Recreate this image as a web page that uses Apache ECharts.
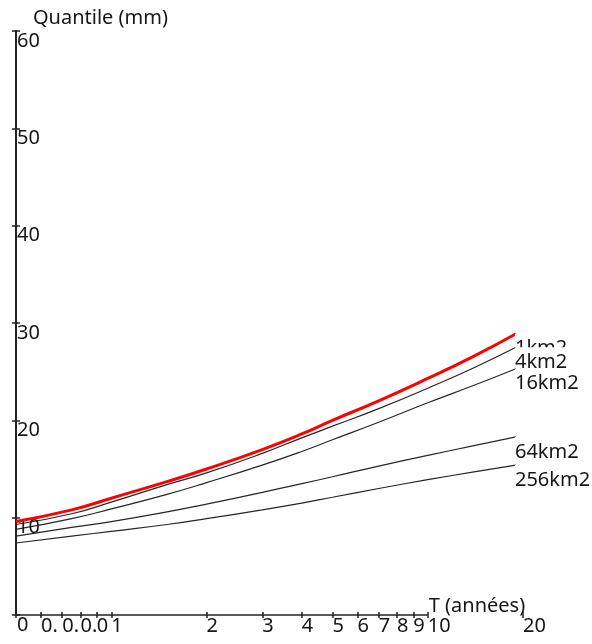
<!DOCTYPE html>
<html>
<head>
<meta charset="utf-8">
<script src="https://cdn.jsdelivr.net/npm/echarts@6/dist/echarts.min.js"></script>
<style>
  html, body { margin: 0; padding: 0; background: #fff; }
  #chart { width: 592px; height: 644px; }
</style>
</head>
<body>
<div id="chart"></div>
<script>
// Période de retour T (années)
const periods = [0.5, 0.75, 1, 1.5, 2, 3, 4, 5, 7, 10, 14, 19];
// Quantiles (mm) par surface
const q1km2 = [9.6, 10.8, 12.0, 13.7, 15.0, 17.0, 18.6, 20.0, 22.0, 24.3, 26.6, 28.9];
const q4km2 = [9.3, 10.4, 11.6, 13.4, 14.6, 16.6, 18.2, 19.4, 21.2, 23.3, 25.4, 27.5];
const q16km2 = [8.8, 9.9, 10.9, 12.4, 13.6, 15.4, 16.8, 18.0, 19.8, 21.8, 23.6, 25.3];
const q64km2 = [8.1, 9.0, 9.6, 10.6, 11.4, 12.6, 13.5, 14.2, 15.3, 16.4, 17.4, 18.3];
const q256km2 = [7.4, 8.1, 8.6, 9.3, 9.9, 10.8, 11.5, 12.1, 13.0, 13.9, 14.7, 15.4];
const seriesNames = ['1km2', '4km2', '16km2', '64km2', '256km2'];

// Graduations (les libellés 0.6 à 0.9 se chevauchent et sont rognés sur l'original)
const xTicks = [0.5, 0.6, 0.7, 0.8, 0.9, 1, 2, 3, 4, 5, 6, 7, 8, 9, 10, 20];
const xLabels = [0.6, 0.7, 0.8, 0.9, 1, 2, 3, 4, 5, 6, 7, 8, 9, 10, 20];
const xLabelText = ['0.', '0.', '0.', '0', '1', '2', '3', '4', '5', '6', '7', '8', '9', '10', '20'];
const yMin = 0, yMax = 60, yStep = 10;

const FONT = 'Noto Sans';
const FS = 20;
const TXT = '#161616';

const chart = echarts.init(document.getElementById('chart'));

const allValues = [q1km2, q4km2, q16km2, q64km2, q256km2];

const series = allValues.map((vals, i) => ({
  name: seriesNames[i],
  type: 'line',
  xAxisIndex: 0,
  yAxisIndex: 0,
  data: periods.map((t, k) => [t, vals[k]]),
  smooth: true,
  symbol: 'none',
  z: 2 + i,
  lineStyle: {
    color: i === 0 ? '#ff0000' : '#262626',
    width: i === 0 ? 3 : 1.2
  },
  endLabel: {
    show: true,
    formatter: '{a}',
    color: TXT,
    fontFamily: FONT,
    fontSize: FS,
    align: 'left',
    verticalAlign: 'top',
    distance: 0,
    offset: [-1, 0],
    backgroundColor: '#fff',
    padding: [5, 4, 0, 0]
  }
}));

// trait de l'axe des T, qui s'arrête à 10
series[0].markLine = {
  silent: true,
  symbol: 'none',
  label: { show: false },
  lineStyle: { color: '#222', width: 1.5, type: 'solid' },
  data: [[{ coord: [0.5, 0] }, { coord: [10, 0] }]]
};

const option = {
  animation: false,
  backgroundColor: '#fff',
  grid: { left: 16, right: 69, top: 31, bottom: 29, containLabel: false },
  xAxis: [{
    type: 'log',
    logBase: 10,
    min: 0.5,
    max: 20,
    axisLine: { show: false },
    axisTick: { show: true, inside: false, length: 3, customValues: xTicks, lineStyle: { color: '#222', width: 1.5 } },
    axisLabel: {
      customValues: xLabels,
      formatter: v => {
        const k = xLabels.findIndex(x => Math.abs(x - v) < 1e-6);
        return k >= 0 ? xLabelText[k] : '';
      },
      color: TXT,
      fontFamily: FONT,
      fontSize: FS,
      align: 'left',
      margin: 1,
      hideOverlap: false,
      showMinLabel: true,
      showMaxLabel: true
    },
    splitLine: { show: false }
  }, {
    type: 'log',
    logBase: 10,
    min: 0.5,
    max: 20,
    gridIndex: 0,
    position: 'bottom',
    axisLine: { show: false },
    axisTick: { show: true, inside: true, length: 3, customValues: xTicks, lineStyle: { color: '#222', width: 1.5 } },
    axisLabel: { show: false },
    splitLine: { show: false }
  }],
  yAxis: [{
    type: 'value',
    min: yMin,
    max: yMax,
    interval: yStep,
    name: 'Quantile (mm)',
    nameLocation: 'end',
    nameGap: 3,
    nameTextStyle: { color: TXT, fontFamily: FONT, fontSize: FS, align: 'left', verticalAlign: 'bottom', padding: [0, 0, 0, 17] },
    axisLine: { show: true, onZero: false, lineStyle: { color: '#222', width: 2 } },
    axisTick: { show: true, inside: false, length: 4, lineStyle: { color: '#222', width: 1.5 } },
    axisLabel: {
      inside: true,
      color: TXT,
      fontFamily: FONT,
      fontSize: FS,
      align: 'left',
      verticalAlign: 'top',
      margin: 1,
      showMinLabel: true,
      showMaxLabel: true
    },
    splitLine: { show: false }
  }, {
    type: 'value',
    min: yMin,
    max: yMax,
    interval: yStep,
    position: 'left',
    axisLine: { show: false },
    axisTick: { show: true, inside: true, length: 4, lineStyle: { color: '#222', width: 1.5 } },
    axisLabel: { show: false },
    splitLine: { show: false }
  }],
  series: series
};

chart.setOption(option);

// libellé de l'axe des T, placé au bout du trait (T = 10)
const p10 = chart.convertToPixel({ xAxisIndex: 0, yAxisIndex: 0 }, [10, 0]);
chart.setOption({
  graphic: [{
    type: 'text',
    x: p10[0] + 1,
    y: p10[1] + 1,
    silent: true,
    style: {
      text: 'T (années)',
      fill: TXT,
      font: FS + 'px "' + FONT + '"',
      textAlign: 'left',
      textVerticalAlign: 'bottom'
    }
  }]
});
</script>
</body>
</html>
